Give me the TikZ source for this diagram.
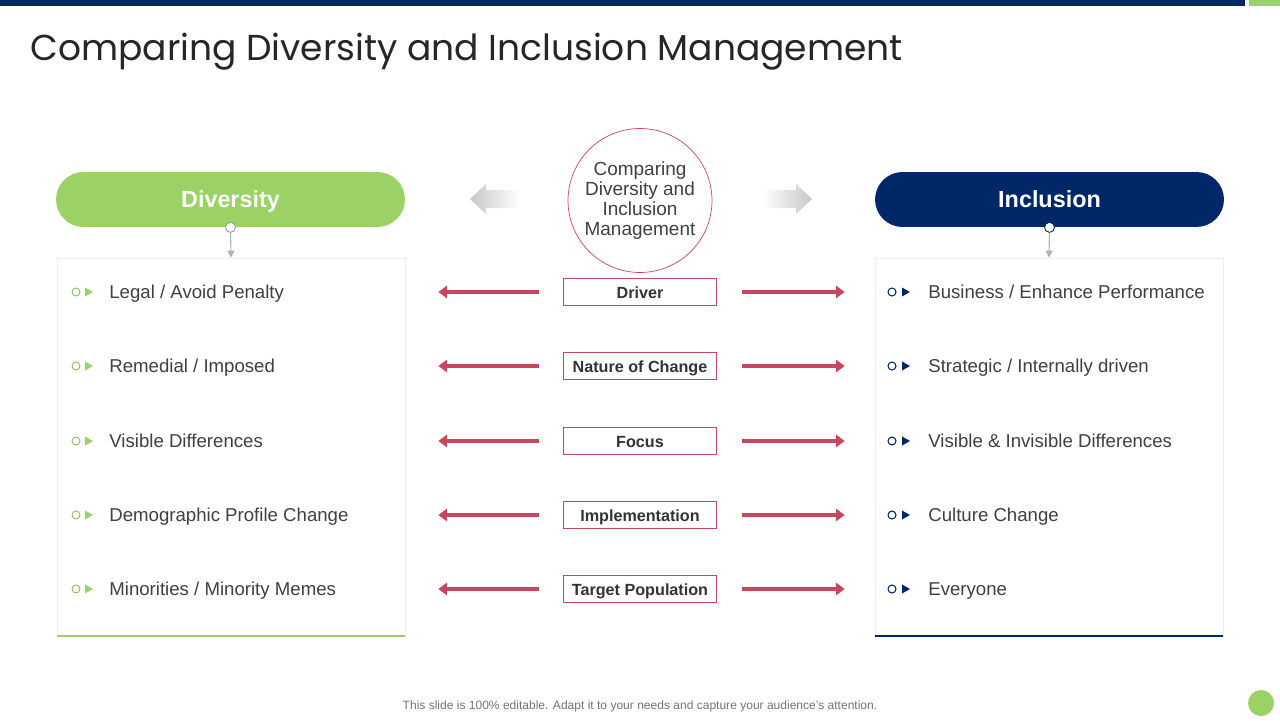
\documentclass[tikz,border=0pt]{standalone}
\usepackage{fontspec}
\setmainfont{Liberation Sans}
\newfontfamily\titlefont{Poppins}
\usetikzlibrary{positioning,arrows.meta}
\definecolor{navy}{RGB}{0,40,104}
\definecolor{leaf}{RGB}{155,209,101}
\definecolor{rose}{RGB}{200,70,95}
\definecolor{ink}{RGB}{64,64,64}

\begin{document}
\begin{tikzpicture}[x=0.02cm,y=-0.02cm,
        pill/.style={rounded corners=0.55cm, minimum width=6.98cm, minimum height=1.1cm, text height=1.1em, text depth=0.2em, text=white, font=\bfseries\fontsize{13.3}{16}\selectfont},
        panel/.style={draw=black!7, fill=white, minimum width=6.96cm, minimum height=7.56cm},
        knob/.style={circle, fill=white, line width=0.5pt, minimum size=0.2cm, inner sep=0pt},
        tag/.style={draw=rose, minimum width=3.06cm, minimum height=0.54cm, inner sep=0pt, text height=0.9em, text depth=0.2em, text=ink!80!black, font=\bfseries\fontsize{9.2}{11}\selectfont},
        item/.style={anchor=west, inner sep=0pt, text height=0.95em, text depth=0.2em, text=ink, font=\fontsize{10.6}{12}\selectfont},
        link/.style={rose, line width=1.8pt, -{Triangle[length=5pt,width=7pt]}},
        drop/.style={black!30, line width=0.6pt, -{Triangle[length=4pt,width=4pt]}}]
    \useasboundingbox (0,0) rectangle (1280,720);
    \fill[navy] (0,0) rectangle (1245,6);
    \fill[leaf] (1249,0) rectangle (1280,6);
    \node[anchor=west, inner sep=0pt, text=black!85, font=\titlefont\fontsize{20.5}{24}\selectfont] (title) at (30,52) {Comparing Diversity and Inclusion Management};

    \node[pill, fill=leaf] (dpill) at (230.5,199.5) {Diversity};
    \node[pill, fill=navy] (ipill) at (1049.5,199.5) {Inclusion};
    \node[panel] (dbox) at (231,447) {};
    \node[panel] (ibox) at (1049,447) {};
    \draw[leaf, line width=1.3pt] (dbox.south west) -- (dbox.south east);
    \draw[navy, line width=1.3pt] (ibox.south west) -- (ibox.south east);
    \node[knob, draw=black!40] (dknob) at (dpill.south) {};
    \node[knob, draw=navy] (iknob) at (ipill.south) {};
    \draw[drop] (dknob) -- (dbox.north);
    \draw[drop] (iknob) -- (ibox.north);

    \node[circle, draw=rose, minimum size=2.88cm, inner sep=0pt, align=center, text=ink, font=\fontsize{10.8}{11.4}\selectfont] (hub) at (640,200.5) {Comparing\\Diversity and\\Inclusion\\Management};
    \shade[left color=black!22, right color=white] (470,199) -- (486,184) -- (486,190) -- (520,190) -- (520,208) -- (486,208) -- (486,214) -- cycle;
    \shade[left color=white, right color=black!22] (812,199) -- (796,184) -- (796,190) -- (762,190) -- (762,208) -- (796,208) -- (796,214) -- cycle;

    \foreach \i/\y/\tg/\dl/\il in {1/292/Driver/{Legal / Avoid Penalty}/{Business / Enhance Performance},
            2/366/Nature of Change/{Remedial / Imposed}/{Strategic / Internally driven},
            3/441/Focus/{Visible Differences}/{Visible \& Invisible Differences},
            4/515/Implementation/{Demographic Profile Change}/{Culture Change},
            5/589/Target Population/{Minorities / Minority Memes}/{Everyone}} {
        \node[tag] (tag\i) at (640,\y) {\tg};
        \draw[link, shorten <=0.48cm, shorten >=0.66cm] (tag\i.west) -- (tag\i.west -| dbox.east);
        \draw[link, shorten <=0.5cm, shorten >=0.6cm] (tag\i.east) -- (tag\i.east -| ibox.west);
        \draw[leaf!90!black, line width=0.5pt] (76,\y) circle (0.08cm);
        \fill[leaf] (85,\y-4.5) -- (93,\y) -- (85,\y+4.5) -- cycle;
        \node[item] (dtext\i) at (109,\y) {\dl};
        \draw[navy, line width=0.6pt] (892,\y) circle (0.08cm);
        \fill[navy] (902,\y-4.5) -- (910,\y) -- (902,\y+4.5) -- cycle;
        \node[item] (itext\i) at (928,\y) {\il};
    }

    \node[text=black!55, font=\fontsize{6.85}{8}\selectfont] (note) at (640,706) {This slide is 100\% editable. Adapt it to your needs and capture your audience's attention.};
    \fill[leaf] (1261,703) circle (0.26cm);
\end{tikzpicture}
\end{document}
